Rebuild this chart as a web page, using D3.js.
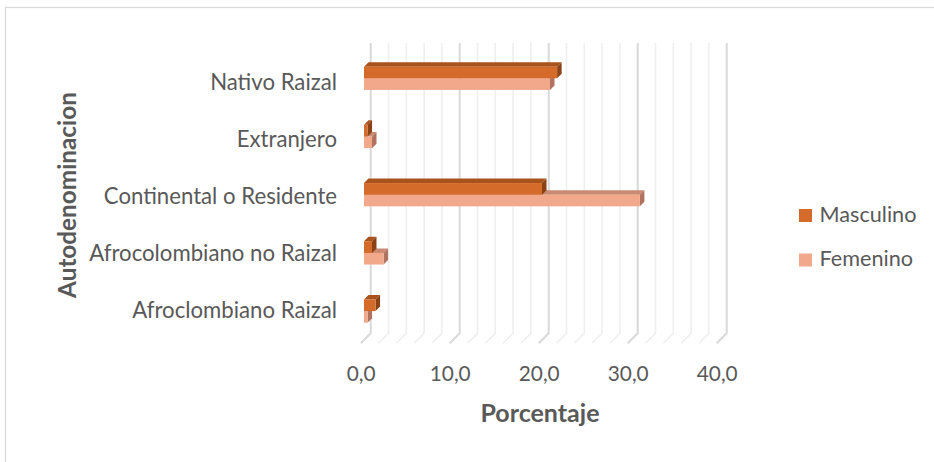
<!DOCTYPE html>
<html><head><meta charset="utf-8">
<script src="https://cdn.jsdelivr.net/npm/d3@7"></script>
<style>
body{margin:0;background:#fff}
svg{display:block}
text{font-family:Lato,"Open Sans",sans-serif}
</style>
</head><body>
<svg id="c" width="934" height="462"></svg>
<script>
// ---- data ----
const categories = ["Nativo Raizal","Extranjero","Continental o Residente","Afrocolombiano no Raizal","Afroclombiano Raizal"];
const seriesNames = ["Masculino","Femenino"];
const masculino = [21.7, 0.4, 20.0, 0.9, 1.3];
const femenino  = [20.9, 0.9, 31.0, 2.2, 0.4];
const xTickValues = [0, 10, 20, 30, 40];
const xTickLabels = ["0,0","10,0","20,0","30,0","40,0"];
const minorTickValues = d3.range(0, 41, 2);
const xTitle = "Porcentaje";
const yTitle = "Autodenominacion";

// ---- styles ----
const colors = {
  Masculino: {front:"#D46B2A", top:"#A9521C", side:"#8A4216"},
  Femenino:  {front:"#F2A98B", top:"#C88A72", side:"#B0735F"}
};
const textColor = "#595959";

const svg = d3.select("#c");

// helper: fit font size to a target width
function fitSize(str, weight, target){
  const t = svg.append("text").attr("font-size",100).attr("font-weight",weight).text(str);
  const w = t.node().getComputedTextLength();
  t.remove();
  return 100*target/w;
}
const catSize = fitSize("Afrocolombiano no Raizal", "normal", 248);
const tickSize = fitSize("40,0", "normal", 41);
const legSize = fitSize("Masculino", "normal", 97);
const xtSize = fitSize(xTitle, "bold", 119);
const ytSize = fitSize(yTitle, "bold", 206);

// chart area border
svg.append("rect").attr("x",5.5).attr("y",7.5).attr("width",1000).attr("height",1000)
  .attr("fill","none").attr("stroke","#D9D9D9").attr("stroke-width",1.2);

// ---- scales ----
const xBack = d3.scaleLinear().domain([0,40]).range([370.7,726.7]);
const depth = 10;        // floor depth offset (front is left/down)
const wallTop = 43, wallBottom = 333.3;
const barDepthPos = 6.7; // bar front face offset from back wall
const barDepth = 4.5;    // bar 3D thickness
const xFront = v => xBack(v) - depth;
const xBar = v => xBack(v) - barDepthPos;

const yBand = d3.scaleBand().domain(categories).range([49.2, 340.2]).paddingInner(0.6).paddingOuter(0.3);
const ySub = d3.scaleBand().domain(seriesNames).range([0, yBand.bandwidth()]);
const yLabel = d3.scalePoint().domain(categories).range([82, 310]);

// ---- gridlines (wall + floor) ----
const grid = svg.append("g");
minorTickValues.forEach(v => {
  const major = xTickValues.includes(v);
  grid.append("path")
    .attr("d", `M${xBack(v)},${wallTop}L${xBack(v)},${wallBottom}L${xFront(v)},${wallBottom+depth}`)
    .attr("fill","none")
    .attr("stroke", major ? "#D9D9D9" : "#EFEFEF")
    .attr("stroke-width", major ? 2 : 1.6);
});

// ---- bars ----
const rows = categories.map((c,i) => ({cat:c, Masculino:masculino[i], Femenino:femenino[i]}));
const bars = svg.append("g");
["Femenino","Masculino"].forEach(s => {
  rows.forEach(r => {
    const x0 = xBar(0), x1 = xBar(r[s]);
    const y0 = yBand(r.cat) + ySub(s), h = ySub.bandwidth();
    const d = barDepth;
    const g = bars.append("g");
    g.append("path").attr("d",`M${x0},${y0}L${x0+d},${y0-d}L${x1+d},${y0-d}L${x1},${y0}Z`).attr("fill",colors[s].top);
    g.append("path").attr("d",`M${x1},${y0}L${x1+d},${y0-d}L${x1+d},${y0+h-d}L${x1},${y0+h}Z`).attr("fill",colors[s].side);
    g.append("rect").attr("x",x0).attr("y",y0).attr("width",Math.max(0,x1-x0)).attr("height",h).attr("fill",colors[s].front);
  });
});

// ---- x axis ----
const xAxisScale = d3.scaleLinear().domain([0,40]).range([xFront(0), xFront(40)]);
const xAxis = svg.append("g").attr("transform","translate(0,366)")
  .call(d3.axisBottom(xAxisScale).tickValues(xTickValues).tickFormat((d,i)=>xTickLabels[i]).tickSize(0).tickPadding(0));
xAxis.select(".domain").remove();
xAxis.selectAll("text").attr("font-size",tickSize).attr("fill",textColor).attr("font-family","Lato,'Open Sans',sans-serif");

// ---- y axis labels ----
const yAxis = svg.append("g").attr("transform","translate(337,0)")
  .call(d3.axisLeft(yLabel).tickSize(0).tickPadding(0));
yAxis.select(".domain").remove();
yAxis.selectAll("text").attr("font-size",catSize).attr("fill",textColor).attr("font-family","Lato,'Open Sans',sans-serif");

// ---- axis titles ----
svg.append("text").attr("x",540).attr("y",421.5).attr("text-anchor","middle")
  .attr("font-weight","bold").attr("font-size",xtSize).attr("fill",textColor).text(xTitle);
svg.append("text").attr("transform","translate(76,195) rotate(-90)").attr("text-anchor","middle")
  .attr("font-weight","bold").attr("font-size",ytSize).attr("fill",textColor).text(yTitle);

// ---- legend ----
const legY = d3.scalePoint().domain(seriesNames).range([221.5, 266]);
const leg = svg.append("g");
seriesNames.forEach(s => {
  leg.append("rect").attr("x",799).attr("y",legY(s)-12.5).attr("width",13).attr("height",13).attr("fill",colors[s].front);
  leg.append("text").attr("x",819.5).attr("y",legY(s)).attr("font-size",legSize).attr("fill",textColor).text(s);
});
</script>
</body></html>
